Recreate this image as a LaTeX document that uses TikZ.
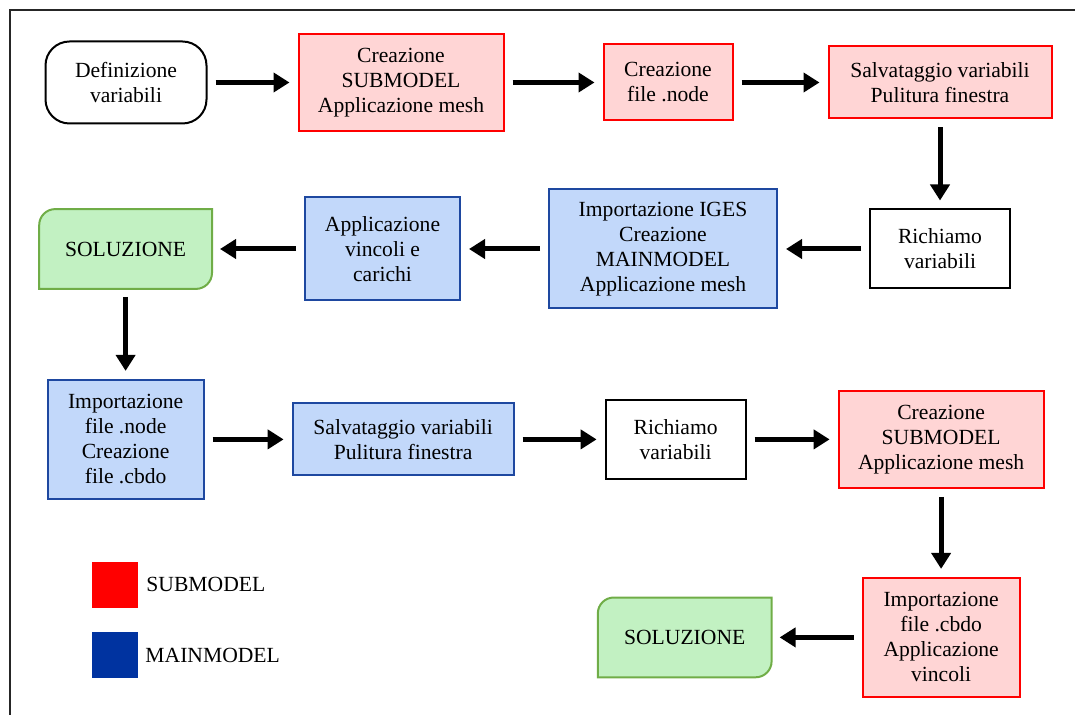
\documentclass[tikz,border=0pt]{standalone}
\usepackage{fontspec}
\setmainfont{Liberation Serif}
\usetikzlibrary{arrows.meta,positioning,backgrounds}

\definecolor{subred}{RGB}{255,0,0}
\definecolor{subfill}{RGB}{255,213,213}
\definecolor{mainblue}{RGB}{30,72,160}
\definecolor{mainfill}{RGB}{194,216,250}
\definecolor{keyblue}{RGB}{0,51,160}
\definecolor{solline}{RGB}{112,173,71}
\definecolor{solfill}{RGB}{194,241,194}

% end box: only the top left and bottom right corners are rounded
\newcommand\solshape[1]{%
  \filldraw[draw=solline,fill=solfill,line width=1pt]
    (#1.south west) -- ([yshift=-8pt]#1.north west)
    arc[start angle=180,end angle=90,radius=8pt] -- (#1.north east)
    -- ([yshift=8pt]#1.south east)
    arc[start angle=0,end angle=-90,radius=8pt] -- cycle;}

\begin{document}
\begin{tikzpicture}[font=\fontsize{10.8}{12.5}\selectfont,align=center,node distance=45pt,
  box/.style={rectangle,line width=1pt,inner sep=2pt},
  subbox/.style={box,draw=subred,fill=subfill},
  mainbox/.style={box,draw=mainblue,fill=mainfill},
  plainbox/.style={box,draw=black},
  flow/.style={-{Triangle[length=8pt,width=9.5pt]},line width=2.5pt,shorten <=4pt,shorten >=4pt}]
\useasboundingbox (0,0) rectangle (537.5pt,-357.5pt);
\draw[line width=1pt,black!85] (537.5pt,-5pt) -- (5pt,-5pt) -- (5pt,-357.5pt);

\node[plainbox,rounded corners=12pt,minimum width=80.5pt,minimum height=41pt] (def) at (63pt,-41.25pt) {Definizione\\variabili};
\node[subbox,minimum width=102.5pt,minimum height=48.5pt,right=45pt of def] (sub1) {Creazione\\SUBMODEL\\Applicazione mesh};
\node[subbox,minimum width=64.5pt,minimum height=38pt,right=49pt of sub1] (nodefile) {Creazione\\file .node};
\node[subbox,minimum width=111.5pt,minimum height=36pt,right=47pt of nodefile] (save1) {Salvataggio variabili\\Pulitura finestra};
\node[plainbox,minimum width=70pt,minimum height=39.5pt,below=44.5pt of save1] (recall1) {Richiamo\\variabili};
\node[mainbox,minimum width=114pt,minimum height=59.5pt,left=45.5pt of recall1] (iges) {Importazione IGES\\Creazione\\MAINMODEL\\Applicazione mesh};
\node[mainbox,minimum width=77.5pt,minimum height=51.5pt,left=43.5pt of iges] (loads) {Applicazione\\vincoli e\\carichi};
\node[minimum width=86pt,minimum height=39.5pt,left=46pt of loads] (sol1) {SOLUZIONE};
\node[mainbox,minimum width=78pt,minimum height=59.5pt,below=45pt of sol1] (cbdo1) {Importazione\\file .node\\Creazione\\file .cbdo};
\node[mainbox,minimum width=110.5pt,minimum height=36pt,right=43.5pt of cbdo1] (save2) {Salvataggio variabili\\Pulitura finestra};
\node[plainbox,minimum width=70pt,minimum height=39.5pt,right=45pt of save2] (recall2) {Richiamo\\variabili};
\node[subbox,minimum width=102.5pt,minimum height=48.5pt,right=45.5pt of recall2] (sub2) {Creazione\\SUBMODEL\\Applicazione mesh};
\node[subbox,minimum width=78.5pt,minimum height=59.5pt,below=44pt of sub2] (cbdo2) {Importazione\\file .cbdo\\Applicazione\\vincoli};
\node[minimum width=86.5pt,minimum height=39.5pt,left=45pt of cbdo2] (sol2) {SOLUZIONE};

\begin{scope}[on background layer]
  \solshape{sol1}
  \solshape{sol2}
\end{scope}

\draw[flow] (def) -- (sub1);
\draw[flow] (sub1) -- (nodefile);
\draw[flow] (nodefile) -- (save1);
\draw[flow] (save1) -- (recall1);
\draw[flow] (recall1) -- (iges);
\draw[flow] (iges) -- (loads);
\draw[flow] (loads) -- (sol1);
\draw[flow] (sol1) -- (cbdo1);
\draw[flow] (cbdo1) -- (save2);
\draw[flow] (save2) -- (recall2);
\draw[flow] (recall2) -- (sub2);
\draw[flow] (sub2) -- (cbdo2);
\draw[flow] (cbdo2) -- (sol2);

% legend
\node[fill=subred,minimum size=23pt,inner sep=0pt] (keysub) at (57.5pt,-292.25pt) {};
\node[right=0.5pt of keysub] (keysubtext) {SUBMODEL};
\node[fill=keyblue,minimum size=23pt,inner sep=0pt] (keymain) at (57.5pt,-327.5pt) {};
\node[right=0pt of keymain] (keymaintext) {MAINMODEL};
\end{tikzpicture}
\end{document}
